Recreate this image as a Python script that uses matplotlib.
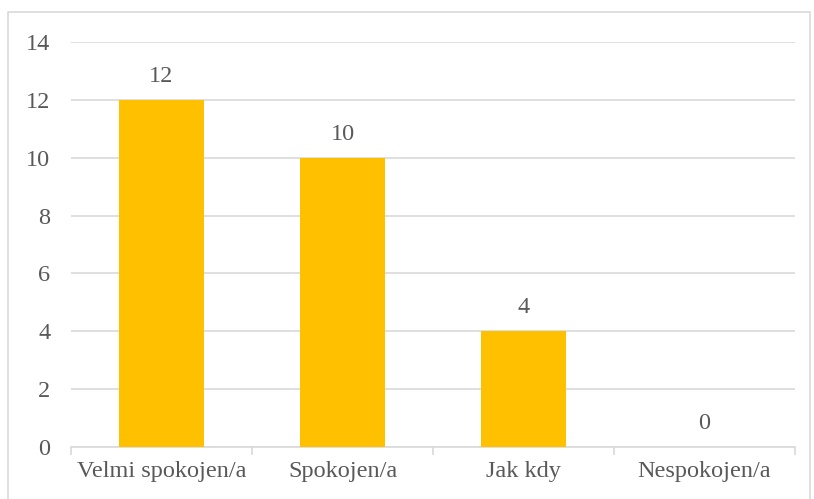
import matplotlib.pyplot as plt
from matplotlib.patches import Rectangle

categories = ["Velmi spokojen/a", "Spokojen/a", "Jak kdy", "Nespokojen/a"]
values = [12, 10, 4, 0]
yticks = [0, 2, 4, 6, 8, 10, 12, 14]

plt.rcParams['font.family'] = ['Liberation Serif', 'DejaVu Serif']
txt = '#595959'
grid = '#D9D9D9'
fs = 17.5

fig = plt.figure(figsize=(8.14, 4.99), dpi=100)
ax = fig.add_axes([71/814, 1 - 447/499, 724/814, 405/499])

x = range(len(categories))
ax.bar(x, values, width=0.475, color='#FFC000', zorder=3)
for i, v in zip(x, values):
    ax.annotate(str(v), (i, v), xytext=(0, 17), textcoords='offset points',
                ha='center', va='center', fontsize=fs, color=txt)

ax.set_xlim(-0.5, len(categories) - 0.5)
ax.set_ylim(0, 14)
ax.set_yticks(yticks)
ax.set_yticklabels([str(t) for t in yticks], fontsize=fs, color=txt)
ax.yaxis.grid(True, color=grid, linewidth=1.2, zorder=0)
ax.tick_params(axis='y', length=0, pad=15)

ax.set_xticks(list(x))
ax.set_xticklabels(categories, fontsize=fs, color=txt)
ax.tick_params(axis='x', length=0, pad=10)
# category boundary ticks
ax.set_xticks([i - 0.5 for i in range(len(categories) + 1)], minor=True)
ax.tick_params(axis='x', which='minor', length=6, color=grid, width=1.2)

for s in ['top', 'right', 'left']:
    ax.spines[s].set_visible(False)
ax.spines['bottom'].set_color(grid)
ax.spines['bottom'].set_linewidth(1.2)

fig.patches.append(Rectangle((8/814, -0.01), 802/814, 1 - 12/499 + 0.01,
                             transform=fig.transFigure, fill=False,
                             edgecolor='#D9D9D9', linewidth=1.2))

fig.savefig('out.png', dpi=100)
